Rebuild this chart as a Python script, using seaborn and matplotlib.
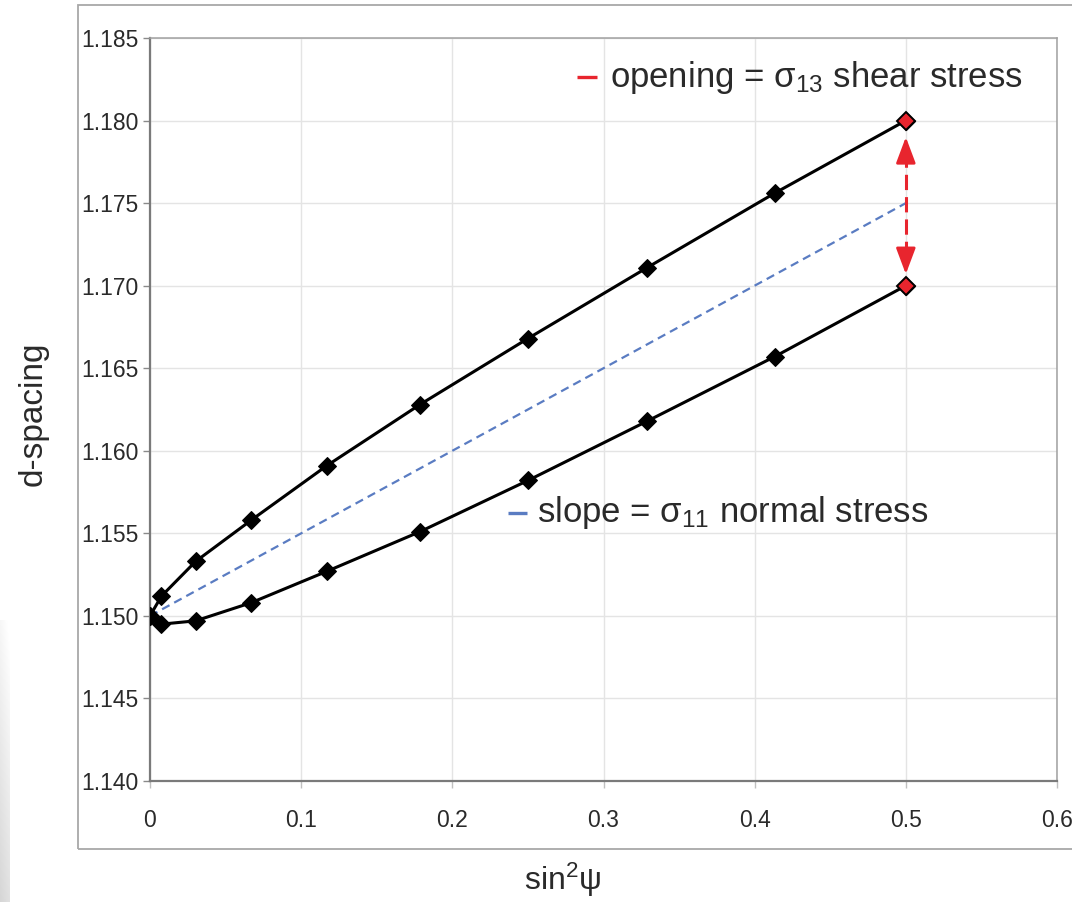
import numpy as np
import pandas as pd
import matplotlib
matplotlib.use("Agg")
import matplotlib.pyplot as plt
from matplotlib.patches import Rectangle
import seaborn as sns

# ---- data ----
sin2psi = [0.0, 0.0076, 0.0302, 0.0670, 0.1170, 0.1786, 0.2500, 0.3290, 0.4132, 0.5000]
d_upper = [1.1500, 1.1512, 1.1533, 1.1558, 1.1591, 1.1628, 1.1668, 1.1711, 1.1756, 1.1800]
d_lower = [1.1500, 1.1495, 1.1497, 1.1508, 1.1527, 1.1551, 1.1582, 1.1618, 1.1657, 1.1700]
mean_x = [0.0, 0.5]
mean_d = [1.1500, 1.1750]
x_ticks = [0, 0.1, 0.2, 0.3, 0.4, 0.5, 0.6]
x_ticklabels = ["0", "0.1", "0.2", "0.3", "0.4", "0.5", "0.6"]
y_ticks = [1.140, 1.145, 1.150, 1.155, 1.160, 1.165, 1.170, 1.175, 1.180, 1.185]
y_ticklabels = ["1.140", "1.145", "1.150", "1.155", "1.160", "1.165", "1.170", "1.175", "1.180", "1.185"]
label_opening = r"opening = $\mathregular{σ_{13}}$ shear stress"
label_slope = r"slope = $\mathregular{σ_{11}}$ normal stress"

RED = "#e8252e"
BLUE = "#5a7cc2"
TXT = "#2a2a2a"

sns.set_theme(style="white")
plt.rcParams["font.family"] = ["Liberation Sans", "DejaVu Sans"]

W, H = 1072, 902
fig = plt.figure(figsize=(W / 100, H / 100), dpi=100)
ax = fig.add_axes([150 / W, 1 - 781 / H, (1057 - 150) / W, (781 - 38) / H])

df_up = pd.DataFrame({"x": sin2psi, "d": d_upper})
df_lo = pd.DataFrame({"x": sin2psi, "d": d_lower})
df_mean = pd.DataFrame({"x": mean_x, "d": mean_d})

sns.lineplot(data=df_mean, x="x", y="d", ax=ax, color=BLUE, lw=1.6,
             dashes=False, linestyle=(0, (3.8, 2.4)), zorder=2)
for df in (df_up, df_lo):
    sns.lineplot(data=df, x="x", y="d", ax=ax, color="black", lw=2.2,
                 marker="D", markersize=9.5, markeredgecolor="black",
                 markerfacecolor="black", sort=False, zorder=3)

# red end markers
ax.plot([sin2psi[-1]] * 2, [d_upper[-1], d_lower[-1]], ls="none", marker="D",
        markersize=9.5, markerfacecolor=RED, markeredgecolor="black",
        markeredgewidth=1.4, zorder=5)

# red dashed double arrow
top_tip = d_upper[-1] - 0.0010
bot_tip = d_lower[-1] + 0.0007
head_len = 0.0009
ax.plot([sin2psi[-1]] * 2, [top_tip - head_len, bot_tip + head_len], color=RED,
        lw=2.2, linestyle=(0, (5, 2.3)), zorder=4, solid_capstyle="butt")
ap = dict(arrowstyle="-|>,head_length=0.8,head_width=0.3", color=RED, lw=2.0,
          mutation_scale=20, shrinkA=0, shrinkB=0)
ax.annotate("", xy=(sin2psi[-1], top_tip), xytext=(sin2psi[-1], top_tip - head_len),
            arrowprops=ap, zorder=4)
ax.annotate("", xy=(sin2psi[-1], bot_tip), xytext=(sin2psi[-1], bot_tip + head_len),
            arrowprops=ap, zorder=4)

# annotation labels
ax.plot([0.2825, 0.2957], [1.18264, 1.18264], color=RED, lw=2.4, solid_capstyle="butt")
ax.text(0.304, 1.18203, label_opening, fontsize=25, color=TXT, va="baseline", ha="left")
ax.plot([0.2368, 0.2494], [1.15623, 1.15623], color=BLUE, lw=2.4, solid_capstyle="butt")
ax.text(0.256, 1.15568, label_slope, fontsize=25, color=TXT, va="baseline", ha="left")

# axes styling
ax.set_xlim(0, 0.6)
ax.set_ylim(1.140, 1.185)
ax.set_xticks(x_ticks)
ax.set_xticklabels(x_ticklabels)
ax.set_yticks(y_ticks)
ax.set_yticklabels(y_ticklabels)
ax.set_xlabel("")
ax.set_ylabel("")
ax.grid(True, color="#e4e4e4", lw=1.0)
ax.set_axisbelow(True)
for s in ("left", "bottom"):
    ax.spines[s].set_color("#7a7a7a")
    ax.spines[s].set_linewidth(1.6)
for s in ("top", "right"):
    ax.spines[s].set_color("#a0a0a0")
    ax.spines[s].set_linewidth(1.1)
ax.tick_params(axis="y", direction="out", length=5, width=1, color="#8a8a8a",
               labelsize=16.5, labelcolor=TXT, pad=3, left=True)
ax.tick_params(axis="x", direction="out", length=5, width=1, color="#c0c0c0",
               labelsize=16.5, labelcolor=TXT, pad=15, bottom=True)

# figure-level decorations
fig.text(33 / W, 1 - 414 / H, "d-spacing", rotation=90, fontsize=24, color=TXT,
         ha="center", va="center")
fig.text(563 / W, 1 - 890 / H, r"sin$\mathregular{^2}$ψ", fontsize=23, color=TXT,
         ha="center", va="baseline")

frame = Rectangle((78 / W, 1 - 849 / H), (W + 20 - 78) / W, (849 - 5) / H,
                  transform=fig.transFigure, fill=False, edgecolor="#a8a8a8",
                  lw=1.3, clip_on=False, zorder=0)
fig.patches.append(frame)

# left light-gray gradient strip
strip = fig.add_axes([0, 0, 10 / W, 1 - 620 / H])
g = np.linspace(0.97, 0.84, 100).reshape(-1, 1)
horiz = np.linspace(0.0, 0.04, 10).reshape(1, -1)
rgb = np.clip(g + horiz, 0, 1)
strip.imshow(np.dstack([rgb, rgb, rgb]), aspect="auto", extent=[0, 1, 0, 1])
strip.axis("off")

fig.savefig("out.png", dpi=100)
